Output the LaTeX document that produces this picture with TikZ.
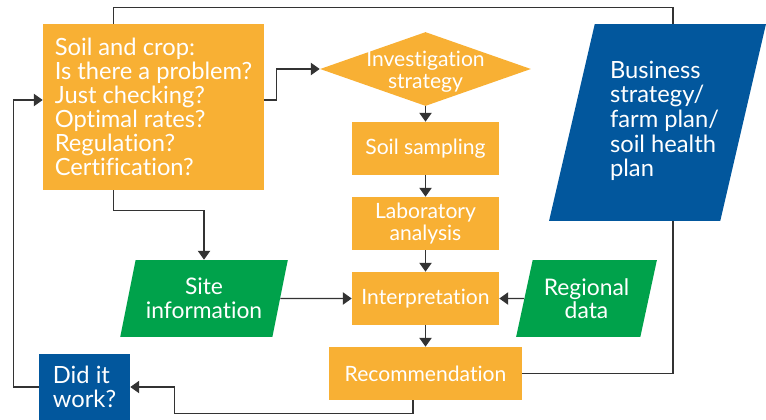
\documentclass[tikz,border=0pt]{standalone}
\usepackage{fontspec}
\setmainfont{Lato}[Ligatures={NoCommon}]
\usetikzlibrary{calc, positioning, arrows.meta, shapes}
\definecolor{boxorange}{HTML}{F8B034}
\definecolor{boxblue}{HTML}{02579D}
\definecolor{boxgreen}{HTML}{00A24B}
\definecolor{linegray}{HTML}{333333}
\tikzset{
    flow/.style={draw=none, text=white, inner sep=0pt},
    stepbox/.style={flow, rectangle, fill=boxorange, minimum width=2.94cm, minimum height=1.06cm,
        align=center, font=\fontsize{12}{12.6}\selectfont},
    inputbox/.style={flow, trapezium, trapezium stretches=true, trapezium left angle=72,
        trapezium right angle=108, fill=boxgreen, minimum height=1.54cm, align=center,
        font=\fontsize{13}{13.4}\selectfont},
    bigtext/.style={font=\fontsize{13.5}{13.6}\selectfont, align=left},
    link/.style={draw=linegray, line width=0.6pt},
    arrowlink/.style={link, -{Triangle[width=7pt, length=5pt]}},
}

\begin{document}
\begin{tikzpicture}[x=0.02cm, y=-0.02cm]
\useasboundingbox (0,0) rectangle (766,419);

\node[flow, rectangle, fill=boxorange, minimum width=4.42cm, minimum height=3.32cm, bigtext] (soil) at (153.5,107)
    {Soil and crop:\\Is there a problem?\\Just checking?\\Optimal rates?\\Regulation?\\Certification?};
\node[flow, diamond, aspect=4, fill=boxorange, minimum width=4.22cm, minimum height=1.48cm,
    font=\fontsize{12}{12.5}\selectfont] (inv) at (425.5,69)
    {\smash{\raisebox{-5.6pt}{\begin{tabular}{@{}c@{}}Investigation\\strategy\end{tabular}}}};
\node[stepbox] (samp) at (425.5,148.5) {Soil sampling};
\node[stepbox] (lab) at (425.5,223.5) {Laboratory\\analysis};
\node[stepbox] (interp) at (425.5,298.5) {Interpretation};
\node[stepbox, minimum width=3.86cm] (rec) at (425.5,373.5) {Recommendation};
\node[inputbox, minimum width=3.36cm] (site) at (204,298.5) {Site\\information};
\node[inputbox, minimum width=2.82cm] (reg) at (586.5,298.5) {Regional\\data};
\node[flow, trapezium, trapezium stretches=true, trapezium left angle=70, trapezium right angle=110,
    fill=boxblue, minimum width=4.34cm, minimum height=3.94cm, font=\fontsize{13.5}{13.6}\selectfont] (biz) at (657.5,122.5)
    {\begin{tabular}{@{\hspace{0.28cm}}l@{}}Business\\strategy/\\farm plan/\\soil health\\plan\end{tabular}};
\node[flow, rectangle, fill=boxblue, minimum width=1.82cm, minimum height=1.32cm, bigtext] (did) at (84.5,387)
    {Did it\\work?};

% main column
\draw[arrowlink] (inv) -- (samp);
\draw[arrowlink] (samp) -- (lab);
\draw[arrowlink] (lab) -- (interp);
\draw[arrowlink] (interp) -- (rec);
\draw[arrowlink] (site.east) -- (interp.west);
\draw[arrowlink] (reg.west) -- (interp.east);

% loops
\draw[arrowlink] ($(soil.east)+(0,-7)$) -- ++(12,0) |- (inv.west);
\draw[arrowlink] ($(soil.south west)+(71,0)$) -- ++(0,20) -| (site.north);
\draw[link] ($(soil.north west)+(71,0)$) -- ++(0,-16) -| ($(biz.north)+(15.5,0)$);
\draw[link] (rec.east) -| ($(biz.south)+(15.5,0)$);
\draw[arrowlink] ($(rec.south)+(-12.5,0)$) -- ++(0,13) -| ($(did.east)+(44,0)$) -- (did.east);
\draw[arrowlink] (did.west) -- ++(-25,0) |- ($(soil.west)+(0,-7)$);

\end{tikzpicture}
\end{document}
